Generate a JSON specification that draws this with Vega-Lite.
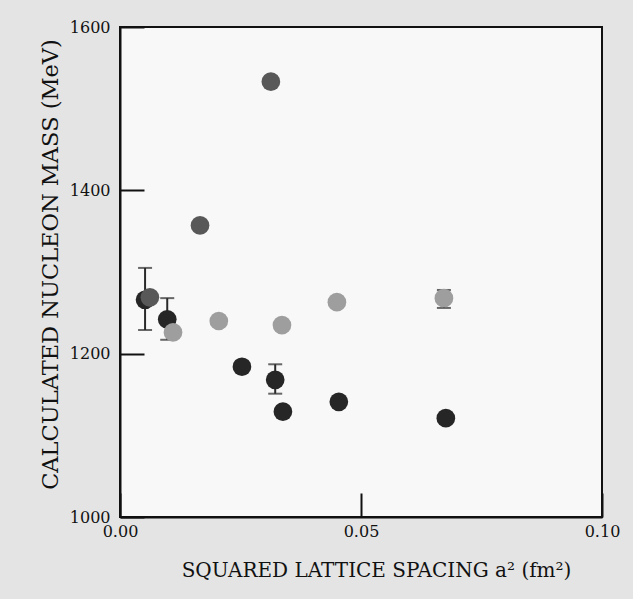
{
  "$schema": "https://vega.github.io/schema/vega-lite/v6.json",
  "width": 482,
  "height": 490,
  "autosize": "none",
  "padding": {"left": 120, "top": 27, "right": 31, "bottom": 82},
  "background": "#e4e4e4",
  "config": {
    "view": {"fill": "#f8f8f8", "stroke": "#111", "strokeWidth": 2},
    "axis": {
      "domainColor": "#111", "domainWidth": 2, "tickColor": "#111", "tickWidth": 2,
      "tickSize": -24, "grid": false, "labelFont": "DejaVu Serif", "labelFontSize": 16, "labelFlush": false,
      "labelColor": "#111", "titleFont": "DejaVu Serif", "titleColor": "#111", "titleFontWeight": "normal"
    }
  },
  "data": {"values": [
    {"x": 0.0052, "y": 1266, "g": "dark", "lo": 1229, "hi": 1305},
    {"x": 0.0062, "y": 1269, "g": "mid"},
    {"x": 0.0098, "y": 1242, "g": "dark", "lo": 1217, "hi": 1268},
    {"x": 0.0110, "y": 1226, "g": "light"},
    {"x": 0.0166, "y": 1357, "g": "mid"},
    {"x": 0.0205, "y": 1240, "g": "light"},
    {"x": 0.0253, "y": 1184, "g": "dark"},
    {"x": 0.0313, "y": 1533, "g": "mid"},
    {"x": 0.0322, "y": 1168, "g": "dark", "lo": 1151, "hi": 1187},
    {"x": 0.0338, "y": 1129, "g": "dark"},
    {"x": 0.0336, "y": 1235, "g": "light"},
    {"x": 0.0450, "y": 1263, "g": "light"},
    {"x": 0.0454, "y": 1141, "g": "dark"},
    {"x": 0.0672, "y": 1268, "g": "light", "lo": 1256, "hi": 1278},
    {"x": 0.0676, "y": 1121, "g": "dark"}
  ]},
  "layer": [
    {
      "transform": [{"filter": "isValid(datum.lo)"}],
      "mark": {"type": "rule", "color": "#2a2a2a", "strokeWidth": 2},
      "encoding": {
        "x": {"field": "x", "type": "quantitative"},
        "y": {"field": "lo", "type": "quantitative"},
        "y2": {"field": "hi"}
      }
    },
    {
      "transform": [{"filter": "isValid(datum.lo)"}],
      "mark": {"type": "tick", "orient": "horizontal", "color": "#2a2a2a", "size": 14, "thickness": 2},
      "encoding": {
        "x": {"field": "x", "type": "quantitative"},
        "y": {"field": "lo", "type": "quantitative"}
      }
    },
    {
      "transform": [{"filter": "isValid(datum.hi)"}],
      "mark": {"type": "tick", "orient": "horizontal", "color": "#2a2a2a", "size": 14, "thickness": 2},
      "encoding": {
        "x": {"field": "x", "type": "quantitative"},
        "y": {"field": "hi", "type": "quantitative"}
      }
    },
    {
      "mark": {"type": "circle", "size": 350, "opacity": 1},
      "encoding": {
        "x": {
          "field": "x", "type": "quantitative",
          "scale": {"domain": [0, 0.1], "nice": false},
          "axis": {"values": [0, 0.05, 0.1], "format": ".2f", "labelPadding": 30, "title": "SQUARED LATTICE SPACING a² (fm²)", "titleFontSize": 20, "titlePadding": 21, "titleX": 256}
        },
        "y": {
          "field": "y", "type": "quantitative",
          "scale": {"domain": [1000, 1600], "nice": false, "zero": false},
          "axis": {"values": [1000, 1200, 1400, 1600], "format": "d", "labelPadding": 34, "title": "CALCULATED NUCLEON MASS (MeV)", "titleFontSize": 22.5, "titlePadding": 7, "titleY": 237}
        },
        "color": {
          "field": "g", "type": "nominal", "legend": null,
          "scale": {"domain": ["dark", "mid", "light"], "range": ["#262626", "#585858", "#9e9e9e"]}
        }
      }
    }
  ]
}
